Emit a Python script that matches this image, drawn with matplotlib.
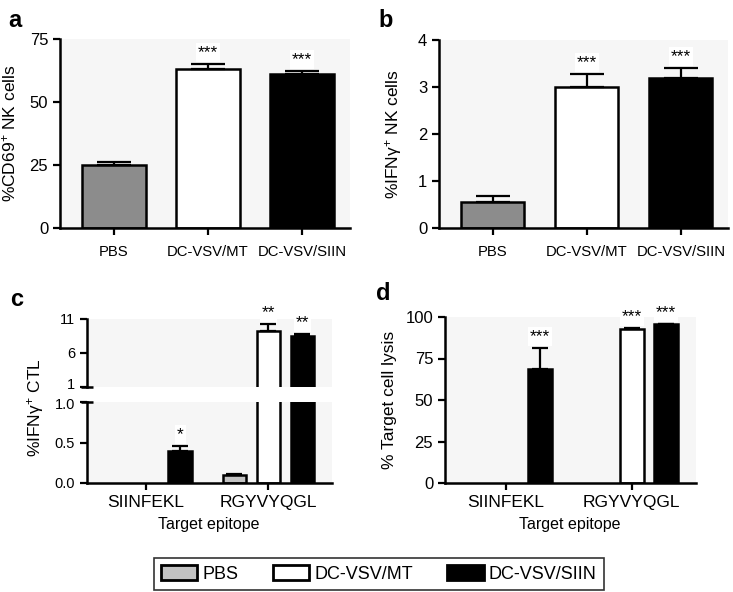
import numpy as np
import matplotlib
matplotlib.use('Agg')
import matplotlib.pyplot as plt
from matplotlib.patches import Patch
from matplotlib.transforms import ScaledTranslation

plt.rcParams['font.family'] = ['Liberation Sans', 'DejaVu Sans']
plt.rcParams['mathtext.fontset'] = 'custom'
plt.rcParams['mathtext.rm'] = 'Liberation Sans'
plt.rcParams['mathtext.it'] = 'Liberation Sans:italic'
plt.rcParams['mathtext.default'] = 'regular'

# --- data ---
groups = ['PBS', 'DC-VSV/MT', 'DC-VSV/SIIN']

cd69 = [25.0, 63.0, 61.0]
cd69_err = [1.3, 2.0, 1.4]
cd69_sig = ['', '***', '***']

ifng_nk = [0.55, 3.0, 3.2]
ifng_nk_err = [0.13, 0.27, 0.2]
ifng_nk_sig = ['', '***', '***']

epitopes = ['SIINFEKL', 'RGYVYQGL']
ctl_pbs = [0.0, 0.10]
ctl_mt = [0.0, 9.3]
ctl_siin = [0.39, 8.5]
ctl_pbs_err = [0.0, 0.01]
ctl_mt_err = [0.0, 0.9]
ctl_siin_err = [0.07, 0.35]
ctl_sig = [['', ''], ['', '**'], ['*', '**']]

lysis_pbs = [0.0, 0.0]
lysis_mt = [0.0, 92.5]
lysis_siin = [68.5, 95.5]
lysis_pbs_err = [0.0, 0.0]
lysis_mt_err = [0.0, 1.0]
lysis_siin_err = [13.0, 0.3]
lysis_sig = [['', ''], ['', '***'], ['***', '***']]

BG = '#f6f6f6'
W, H = 733, 592


def fpos(x0, x1, y_top, y_bot):
    # pixel box -> figure fraction [l, b, w, h]
    return [x0 / W, 1 - y_bot / H, (x1 - x0) / W, (y_bot - y_top) / H]


def style(ax, ytick_size=12):
    ax.set_facecolor(BG)
    for s in ['top', 'right']:
        ax.spines[s].set_visible(False)
    for s in ['left', 'bottom']:
        ax.spines[s].set_linewidth(1.8)
    ax.tick_params(width=1.6, length=5, labelsize=ytick_size)


def bars(ax, x, vals, errs, color, width, capsize, sig, show_err=None):
    # zero-valued bars are not drawn at all
    for i, (xi, v, e, s) in enumerate(zip(x, vals, errs, sig)):
        if v == 0:
            continue
        ax.bar(xi, v, width, color=color if isinstance(color, str) else color[i],
               edgecolor='black', linewidth=1.8, zorder=2)
        if show_err is not None and not show_err(v + e):
            continue
        if e > 0:
            ax.errorbar(xi, v, yerr=[[0], [e]], fmt='none', ecolor='black',
                        elinewidth=1.6, capsize=capsize, capthick=1.6, zorder=3, clip_on=False)
        if s:
            ax.annotate(s, (xi, v + e), xytext=(0, 5), textcoords='offset points',
                        ha='center', va='baseline', fontsize=12.5, annotation_clip=False,
                        zorder=1, bbox=dict(facecolor='white', edgecolor='none', pad=1.5))


fig = plt.figure(figsize=(7.33, 5.92), dpi=100)

# --- a ---
ax = fig.add_axes(fpos(60, 350, 39, 228))
style(ax)
x = np.arange(3)
bars(ax, x, cd69, cd69_err, ['#8c8c8c', 'white', 'black'], 0.68, 12, cd69_sig)
ax.set_xlim(-0.57, 2.51)
ax.set_ylim(0, 75)
ax.set_yticks([0, 25, 50, 75])
ax.set_xticks(x)
ax.set_xticklabels(groups, fontsize=10.7)
ax.tick_params(axis='x', pad=7)
ax.set_ylabel('%CD69$^{+}$ NK cells', fontsize=12.5, labelpad=8)

# --- b ---
ax = fig.add_axes(fpos(439, 728, 40, 228))
style(ax)
bars(ax, x, ifng_nk, ifng_nk_err, ['#8c8c8c', 'white', 'black'], 0.67, 12, ifng_nk_sig)
ax.set_xlim(-0.57, 2.50)
ax.set_ylim(0, 4)
ax.set_yticks([0, 1, 2, 3, 4])
ax.set_xticks(x)
ax.set_xticklabels(groups, fontsize=10.7)
ax.tick_params(axis='x', pad=7)
ax.set_ylabel('%IFN$\\gamma^{+}$ NK cells', fontsize=12.5, labelpad=10)

# --- c (broken axis) ---
colors3 = ['#c3c3c3', 'white', 'black']
gc = np.array([0.0, 3.6])
ctl_vals = [ctl_pbs, ctl_mt, ctl_siin]
ctl_errs = [ctl_pbs_err, ctl_mt_err, ctl_siin_err]
ax_t = fig.add_axes(fpos(87, 332, 319, 387))
ax_b = fig.add_axes(fpos(87, 332, 402, 483))
for a_, lo, hi in ((ax_t, 1, 11), (ax_b, 0, 1.0)):
    style(a_, 10.5)
    for i in range(3):
        sig = [s if lo < v + e <= hi else '' for s, v, e in zip(ctl_sig[i], ctl_vals[i], ctl_errs[i])]
        bars(a_, gc + (i - 1), ctl_vals[i], ctl_errs[i], colors3[i], 0.7, 5.5, sig,
             show_err=lambda t, lo=lo, hi=hi: lo < t <= hi)
    a_.set_xlim(-1.74, 5.47)
    a_.set_ylim(lo, hi)
ax_t.set_yticks([1, 6, 11])
ax_t.spines['bottom'].set_visible(False)
ax_t.set_xticks([])
ax_b.set_yticks([0.0, 0.5, 1.0])
ax_b.set_yticklabels(['0.0', '0.5', '1.0'])
ax_b.set_xticks(gc)
ax_b.set_xticklabels(epitopes, fontsize=12.5)
# break marks at the spine ends
ax_t.plot([0], [0], marker='_', markersize=9, mew=1.8, color='black',
          transform=ax_t.transAxes, clip_on=False)
ax_b.plot([0], [1], marker='_', markersize=9, mew=1.8, color='black',
          transform=ax_b.transAxes, clip_on=False)
lab1 = ax_t.get_yticklabels()[0]
lab1.set_transform(lab1.get_transform() + ScaledTranslation(0, 2.5 / 72, fig.dpi_scale_trans))
lab10 = ax_b.get_yticklabels()[-1]
lab10.set_transform(lab10.get_transform() + ScaledTranslation(0, -1 / 72, fig.dpi_scale_trans))
fig.text(35 / W, 1 - 408 / H, '%IFN$\\gamma^{+}$ CTL', rotation=90, fontsize=12.5,
         ha='center', va='center')
fig.text(209 / W, 1 - 525 / H, 'Target epitope', fontsize=11.5, ha='center', va='center')

# --- d ---
ax = fig.add_axes(fpos(445, 696, 317, 483))
style(ax)
gd = np.array([0.0, 3.7])
lys_vals = [lysis_pbs, lysis_mt, lysis_siin]
lys_errs = [lysis_pbs_err, lysis_mt_err, lysis_siin_err]
for i in range(3):
    bars(ax, gd + (i - 1), lys_vals[i], lys_errs[i], colors3[i], 0.7, 5.5, lysis_sig[i])
ax.set_xlim(-1.79, 5.59)
ax.set_ylim(0, 100)
ax.set_yticks([0, 25, 50, 75, 100])
ax.set_xticks(gd)
ax.set_xticklabels(epitopes, fontsize=12.5)
ax.set_ylabel('% Target cell lysis', fontsize=12.5, labelpad=6)
fig.text(570 / W, 1 - 525 / H, 'Target epitope', fontsize=11.5, ha='center', va='center')

# panel letters
for lab, px, py in [('a', 8, 27), ('b', 378, 27), ('c', 10, 306), ('d', 376, 300)]:
    fig.text(px / W, 1 - py / H, lab, fontsize=17, fontweight='bold', ha='left', va='baseline')

# legend
handles = [Patch(facecolor=c, edgecolor='black', linewidth=2) for c in colors3]
leg = fig.legend(handles, groups, loc='center', bbox_to_anchor=(379 / W, 1 - 574 / H),
                 ncol=3, fontsize=13, frameon=True, fancybox=False, edgecolor='black',
                 handlelength=2.0, handleheight=0.9, handletextpad=0.3, columnspacing=1.9,
                 borderpad=0.4)
leg.get_frame().set_linewidth(1.2)

fig.savefig('out.png', dpi=100)
